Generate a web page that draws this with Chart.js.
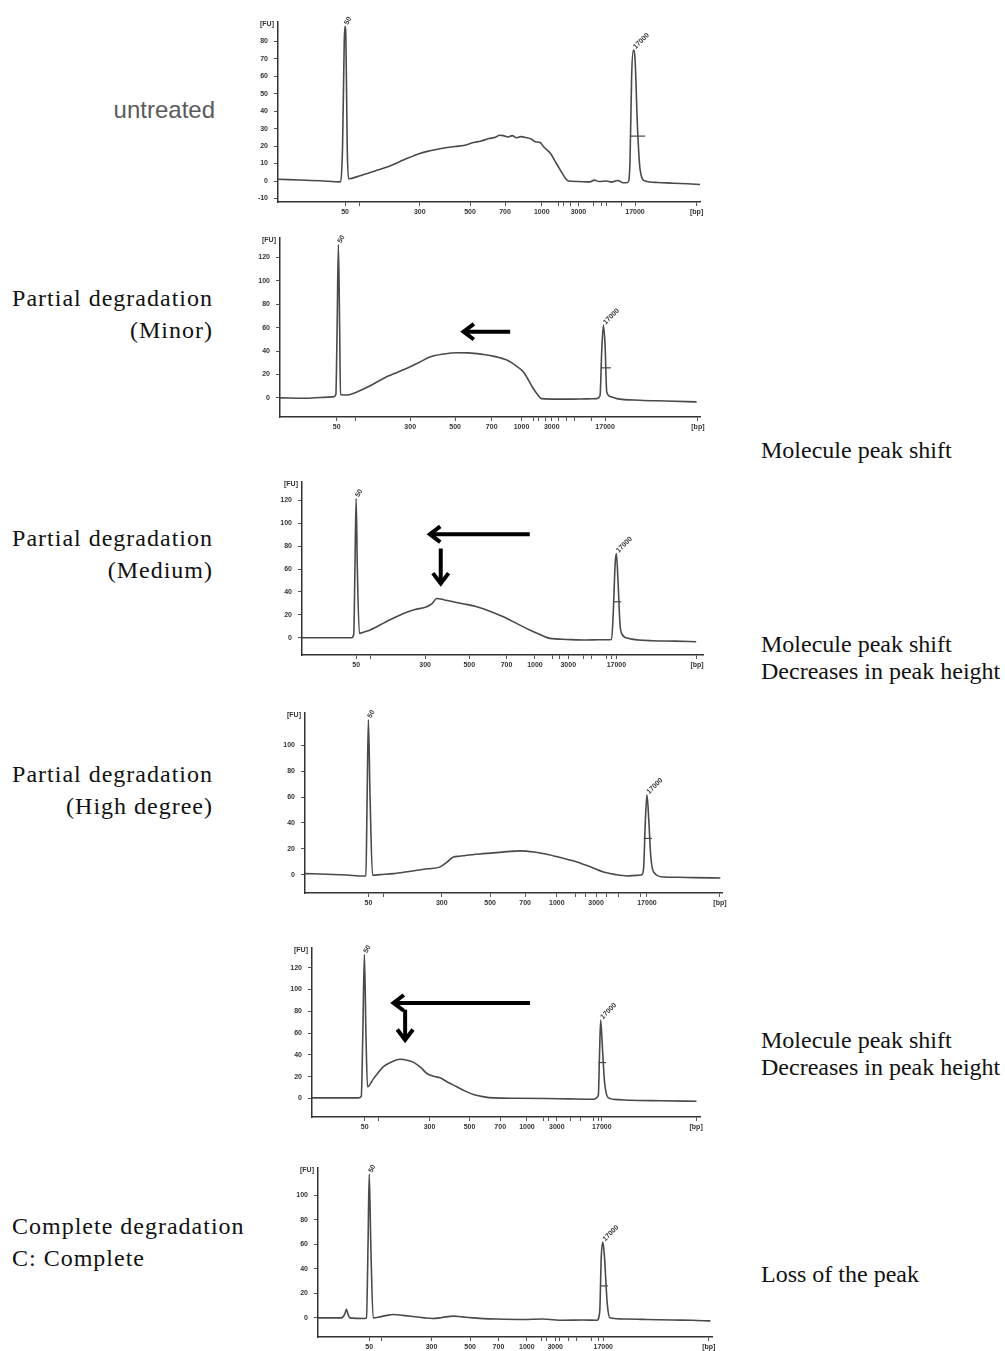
<!DOCTYPE html>
<html>
<head>
<meta charset="utf-8">
<script src="https://cdn.jsdelivr.net/npm/chart.js@4.4.1/dist/chart.umd.min.js"></script>
<style>
  body { margin: 0; background: #fff; width: 1005px; height: 1351px; position: relative; overflow: hidden; }
  canvas { position: absolute; }
  .left { position: absolute; font-family: "Liberation Serif", "Times New Roman", serif; font-size: 24px;
          letter-spacing: 1px; line-height: 32px; color: #111; white-space: nowrap; }
  .right { position: absolute; left: 761px; font-family: "Liberation Serif", "Times New Roman", serif; font-size: 24px;
           line-height: 27px; color: #111; white-space: nowrap; }
  .untreated { position: absolute; right: 790px; top: 96px; font-family: "Liberation Sans", Arial, sans-serif;
               font-size: 24px; line-height: 28px; color: #5a5a5a; }
</style>
</head>
<body>
<div class="untreated">untreated</div>
<div class="left" style="right:792px;top:282px;text-align:right">Partial degradation<br>(Minor)</div>
<div class="left" style="right:792px;top:522px;text-align:right">Partial degradation<br>(Medium)</div>
<div class="left" style="right:792px;top:758px;text-align:right">Partial degradation<br>(High degree)</div>
<div class="left" style="left:12px;top:1210px">Complete degradation<br>C: Complete</div>
<div class="right" style="top:437px">Molecule peak shift</div>
<div class="right" style="top:631px">Molecule peak shift<br>Decreases in peak height</div>
<div class="right" style="top:1027px">Molecule peak shift<br>Decreases in peak height</div>
<div class="right" style="top:1261px">Loss of the peak</div>

<script>
// ---- data (x = migration position 0..100, y = FU) ----
const xTickLabels = ['50', '300', '500', '700', '1000', '3000', '17000', '[bp]'];

const untreatedTicks = [15.9, 33.6, 45.5, 53.8, 62.5, 71.2, 84.6, 99.2];
const untreatedMinor = [19.4, 66.4, 67.6, 69.2, 74.7, 76.7, 77.9, 81.4];
const untreatedY = [-10, 0, 10, 20, 30, 40, 50, 60, 70, 80];
const untreatedFU = [[0,1],[5,0.6],[10,0.2],[14.7,-0.5],[15.3,20],[15.7,80],[15.9,88.6],[16.1,80],[16.4,20],[16.7,1.3],
  [19.4,3],[23,5.8],[26.5,8.6],[30,12.3],[33.6,15.8],[36,17.3],[38.4,18.5],[42,19.8],[44,20.3],[46.3,22],[48,22.8],
  [50,24.3],[51.5,25],[52.5,26.2],[53.4,26],[54.5,25.2],[55.5,26],[56.5,24.8],[57.5,25.4],[58.9,24.8],[60,24],
  [61,22.5],[62.1,22],[63,19.5],[64.5,16],[65.5,12],[66.8,6.7],[68.8,0],[71,-0.3],[73.9,-0.5],[75,0.5],[76,-0.3],
  [77.9,0],[79,-0.6],[80.5,0.3],[81.8,-1],[82.9,-0.8],[83.4,10],[83.8,60],[84.2,75],[84.6,70],[85.2,30],[85.8,6.7],
  [87,0],[90,-0.8],[93.7,-1.3],[97,-1.6],[100,-2]];
const untreatedHalf = [[83.4,25.7],[87,25.7]];
const untreatedArrows = [];

const minorTicks = [13.5, 31.0, 41.7, 50.4, 57.5, 64.7, 77.4, 99.5];
const minorMinor = [17.9, 60.3, 61.5, 63.1, 66.3, 68.3, 70.2, 74.2];
const minorY = [0, 20, 40, 60, 80, 100, 120];
const minorFU = [[0,0],[6,-0.3],[12.7,0.9],[13.3,3],[13.6,60],[13.9,131],[14.2,60],[14.4,3],[16,2.5],[18.3,5.1],
  [21,9.5],[24.6,16.6],[28,22],[31,26.6],[33.5,31],[35.7,35],[39,37.5],[42.1,38.6],[45,38.5],[48.4,37.1],[51,35.5],
  [54,32.3],[56,28],[57.9,22.3],[59.2,15],[60.3,8],[61.3,3],[62.3,-0.6],[66,-1],[69.8,-1],[73,-0.8],[75.4,-0.6],
  [76.2,2],[76.6,40],[77,62],[77.4,45],[77.8,5],[78.8,1],[80.2,-0.6],[85.7,-2],[92,-2.6],[99.2,-3.4]];
const minorHalf = [[76.6,25.7],[78.8,25.7]];
const minorArrows = [[[54.8,56.6],[43.7,56.6]]];

const mediumTicks = [13.5, 30.7, 41.7, 51.0, 58.1, 66.4, 78.4, 98.5];
const mediumMinor = [17.0, 62.5, 64.1, 70.1, 72.2, 75.9, 77.2];
const mediumY = [0, 20, 40, 60, 80, 100, 120];
const mediumFU = [[0,0],[6,0],[12.4,0],[12.9,3],[13.2,60],[13.5,121.5],[13.8,60],[14.3,3.8],[15.5,5],[17,6.7],
  [21,14],[25.3,21.2],[28,24.5],[31.1,27],[32.5,30],[33.6,34.3],[35.5,33],[37.7,31.4],[40.5,29.5],[43.6,27],
  [47,23],[50.2,18.3],[53.5,12.5],[56.8,6.7],[59.5,2.5],[61.8,-0.6],[66,-1.5],[70.9,-2],[74,-1.8],[77.2,-1.5],
  [77.6,20],[78.1,65],[78.4,73.5],[78.8,50],[79.3,12],[79.7,3.8],[81.3,-0.5],[84,-2],[87.5,-2.6],[93,-3],[98.3,-3.5]];
const mediumHalf = [[77.6,31.4],[79.6,31.4]];
const mediumArrows = [[[56.8,90.4],[31.9,90.4]], [[34.6,77.9],[34.6,47.4]]];

const highTicks = [15.2, 32.8, 44.4, 52.8, 60.4, 69.8, 82.0, 99.5];
const highMinor = [18.8, 64.8, 67.2, 72.4, 75.2, 80.5];
const highY = [0, 20, 40, 60, 80, 100];
const highFU = [[0,0.8],[5.2,0.3],[10,-0.3],[14,-1],[14.6,-0.8],[14.9,60],[15.2,120],[15.6,60],[16.2,-0.5],[18,0],
  [21.2,0.8],[24,2],[26.8,3.4],[29.5,4.5],[32.4,6],[34,9.5],[35.6,13.7],[37,14.2],[38.8,15],[42,16],[45.2,16.8],
  [48.5,17.8],[51.6,18.4],[55,17.5],[58,15.8],[61.5,13],[65.2,9.8],[68.5,6],[71.6,2],[74.5,0],[77.2,-1],[79.5,-0.6],
  [80.8,0],[81.2,5],[81.6,40],[82,61.7],[82.4,45],[82.9,15],[83.6,2],[86,-1.8],[89.5,-2],[93.2,-2.3],[99.6,-2.6]];
const highHalf = [[81.2,28],[83.2,28]];
const highArrows = [];

const lateTicks = [13.6, 30.3, 40.6, 48.5, 55.4, 63.1, 74.7, 99.0];
const lateMinor = [17.2, 59.6, 60.9, 66.5, 69.1, 72.5, 73.9];
const lateY = [0, 20, 40, 60, 80, 100, 120];
const lateFU = [[0,0.6],[6,0.6],[12,0.6],[12.7,2],[13.1,60],[13.5,132],[13.9,60],[14.3,10.8],[15.9,18.5],[17,23.5],
  [18.4,29.2],[20.5,33.5],[22.7,36],[24.5,35.2],[26.2,33.2],[28,28.5],[29.6,23],[31.3,20.5],[33,19],[35,15],
  [37.3,10.8],[39.5,6.8],[41.6,3.7],[44,1.8],[46.8,0.6],[53,0.3],[60.5,0],[66,-0.3],[72.5,-0.6],[73.8,3],[74.1,40],
  [74.4,72],[74.8,50],[75.4,15],[76.4,0.6],[79,-1],[82,-1.5],[90,-2],[99.1,-2.5]];
const lateHalf = [[73.8,33],[75.8,33]];
const lateArrows = [[[56.2,87.7],[21.0,87.7]], [[24.0,81.5],[24.0,53.8]]];

const completeTicks = [13.0, 28.8, 38.6, 45.8, 53.0, 60.2, 72.4, 99.2];
const completeMinor = [16.1, 56.8, 58.1, 61.4, 63.5, 65.7, 69.5, 71.2];
const completeY = [0, 20, 40, 60, 80, 100];
const completeFU = [[0,0],[5.9,0],[6.8,3],[7.2,7],[7.6,3],[8.1,0],[11.9,-0.5],[12.3,0],[12.7,60],[13,117],[13.4,60],
  [14,0],[15.7,0.8],[17.5,2],[19.1,2.7],[21.5,2],[24.1,1.1],[27,0],[29.1,-0.5],[31.5,0.3],[34.3,1.4],[36.5,0.8],
  [39.4,0],[42,-0.6],[45.3,-1],[52,-1.4],[57,-1],[62.3,-2],[67,-1.8],[70.8,-2],[71.5,5],[71.9,50],[72.3,61.7],
  [72.7,50],[73.4,12],[74.1,0],[78,-1],[83.5,-1.3],[90,-1.8],[95,-2],[99.6,-2.5]];
const completeHalf = [[71.7,26],[73.6,26]];
const completeArrows = [];

// ---- page placement of each panel's axes ----
const panels = [
  { axisX: 278, top: 22,   bottom: 202,  right: 700, yMin: -12,   yMax: 91,    ticks: untreatedTicks, minor: untreatedMinor, yTicks: untreatedY, trace: untreatedFU, half: untreatedHalf, arrows: untreatedArrows },
  { axisX: 280, top: 238,  bottom: 417,  right: 700, yMin: -16.3, yMax: 136.6, ticks: minorTicks,     minor: minorMinor,     yTicks: minorY,     trace: minorFU,     half: minorHalf,     arrows: minorArrows },
  { axisX: 302, top: 482,  bottom: 655,  right: 703, yMin: -15.1, yMax: 136,   ticks: mediumTicks,    minor: mediumMinor,    yTicks: mediumY,    trace: mediumFU,    half: mediumHalf,    arrows: mediumArrows },
  { axisX: 305, top: 713,  bottom: 893,  right: 722, yMin: -14.2, yMax: 125,   ticks: highTicks,      minor: highMinor,      yTicks: highY,      trace: highFU,      half: highHalf,      arrows: highArrows },
  { axisX: 312, top: 948,  bottom: 1117, right: 700, yMin: -16.9, yMax: 138,   ticks: lateTicks,      minor: lateMinor,      yTicks: lateY,      trace: lateFU,      half: lateHalf,      arrows: lateArrows },
  { axisX: 318, top: 1168, bottom: 1337, right: 712, yMin: -15.6, yMax: 122,   ticks: completeTicks,  minor: completeMinor,  yTicks: completeY,  trace: completeFU,  half: completeHalf,  arrows: completeArrows }
];

const ink = '#4a4a4a';
const tickFont = { family: 'Liberation Sans, Arial, sans-serif', size: 7, weight: 'bold' };

function drawArrow(ctx, x1, y1, x2, y2) {
  const a = Math.atan2(y2 - y1, x2 - x1), h = 13;
  ctx.beginPath(); ctx.moveTo(x1, y1); ctx.lineTo(x2, y2); ctx.stroke();
  ctx.beginPath();
  ctx.moveTo(x2 - h * Math.cos(a - 0.65), y2 - h * Math.sin(a - 0.65));
  ctx.lineTo(x2, y2);
  ctx.lineTo(x2 - h * Math.cos(a + 0.65), y2 - h * Math.sin(a + 0.65));
  ctx.stroke();
}

function peakNear(trace, pos) {
  let best = null;
  trace.forEach(([x, y]) => { if (Math.abs(x - pos) < 1.5 && (!best || y > best[1])) best = [x, y]; });
  return best;
}

const decor = {
  id: 'decor',
  afterDraw(chart) {
    const p = chart.options.plugins.decor;
    const { ctx, scales: { x, y }, chartArea } = chart;
    ctx.save();
    ctx.fillStyle = '#333';
    ctx.font = 'bold 7px Liberation Sans, Arial, sans-serif';
    ctx.textAlign = 'right'; ctx.textBaseline = 'middle';
    ctx.fillText('[FU]', chartArea.left - 4, chartArea.top + 2);
    // marker peak labels
    const lo = peakNear(p.trace, p.ticks[0]), hi = peakNear(p.trace, p.ticks[6]);
    ctx.textAlign = 'left';
    [[lo, '50', -Math.PI / 3], [hi, '17000', -Math.PI / 4]].forEach(([pk, t, r]) => {
      if (!pk) return;
      ctx.save();
      ctx.translate(x.getPixelForValue(pk[0]) + 1, y.getPixelForValue(pk[1]) - 2);
      ctx.rotate(r);
      ctx.fillText(t, 0, 0);
      ctx.restore();
    });
    // arrows
    ctx.strokeStyle = '#000'; ctx.lineWidth = 4; ctx.lineCap = 'butt'; ctx.lineJoin = 'miter';
    p.arrows.forEach(([[ax, ay], [bx, by]]) => {
      drawArrow(ctx, x.getPixelForValue(ax), y.getPixelForValue(ay), x.getPixelForValue(bx), y.getPixelForValue(by));
    });
    ctx.restore();
  }
};

panels.forEach(pn => {
  const cv = document.createElement('canvas');
  const w = pn.right - pn.axisX + 48, h = pn.bottom - pn.top + 34;
  cv.width = w; cv.height = h;
  cv.style.width = w + 'px'; cv.style.height = h + 'px';
  cv.style.left = (pn.axisX - 40) + 'px'; cv.style.top = (pn.top - 12) + 'px';
  document.body.appendChild(cv);

  const merged = pn.ticks.map((v, i) => ({ value: v, text: xTickLabels[i] }))
    .concat(pn.minor.map(v => ({ value: v, text: '' })))
    .sort((a, b) => a.value - b.value);

  new Chart(cv, {
    type: 'line',
    data: {
      datasets: [
        { data: pn.trace.map(([x, y]) => ({ x, y })), borderColor: ink, borderWidth: 1.6, pointRadius: 0,
          tension: 0.3, cubicInterpolationMode: 'monotone', fill: false },
        { data: pn.half.map(([x, y]) => ({ x, y })), borderColor: ink, borderWidth: 1.2, pointRadius: 0 }
      ]
    },
    options: {
      responsive: false,
      animation: false,
      events: [],
      layout: { padding: { left: 10, top: 12, right: 8, bottom: 0 } },
      plugins: {
        legend: { display: false },
        tooltip: { enabled: false },
        decor: { trace: pn.trace, ticks: pn.ticks, arrows: pn.arrows }
      },
      scales: {
        x: {
          type: 'linear', min: 0, max: 100,
          afterFit: s => { s.height = 22; },
          afterBuildTicks: s => { s.ticks = merged.map(t => ({ value: t.value })); },
          ticks: { autoSkip: false, maxRotation: 0, padding: 2, color: '#333', font: tickFont,
                   callback: (v, i) => merged[i] ? merged[i].text : '' },
          grid: { drawOnChartArea: false, tickLength: 4, color: '#555' },
          border: { color: '#333', width: 1.5 }
        },
        y: {
          min: pn.yMin, max: pn.yMax,
          afterFit: s => { s.width = 30; },
          afterBuildTicks: s => { s.ticks = pn.yTicks.map(v => ({ value: v })); },
          ticks: { autoSkip: false, padding: 6, color: '#333', font: tickFont, callback: v => String(v) },
          grid: { drawOnChartArea: false, tickLength: 4, color: '#555' },
          border: { color: '#333', width: 1.5 }
        }
      }
    },
    plugins: [decor]
  });
});
</script>
</body>
</html>
